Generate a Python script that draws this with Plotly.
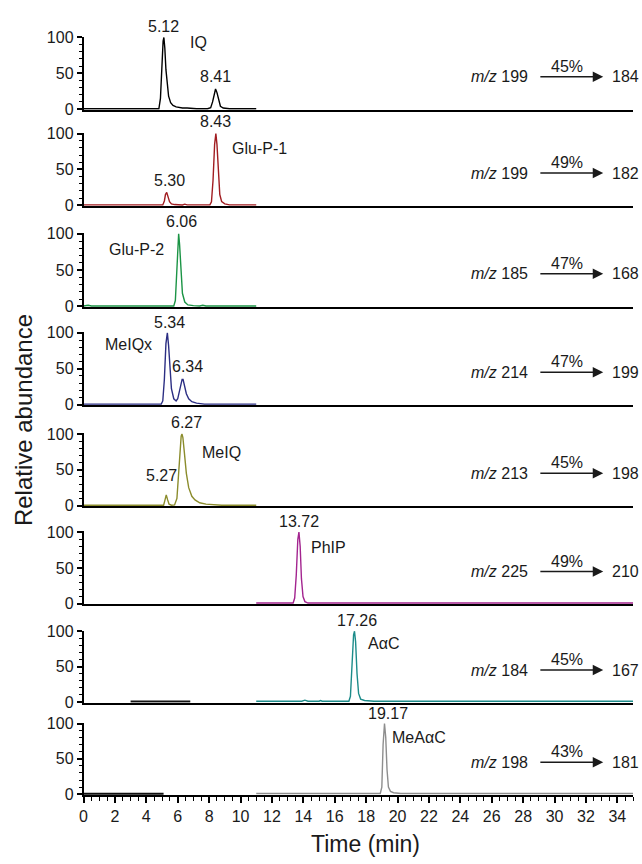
import plotly.graph_objects as go

# ---------------- data ----------------
compounds = ["IQ", "Glu-P-1", "Glu-P-2", "MeIQx", "MeIQ", "PhIP", "AαC", "MeAαC"]
colors = ["#000000", "#a11d21", "#1b9445", "#2b2e83", "#8b8c2c", "#a3248f", "#1d8c8a", "#8e8e8e"]
precursor = [199, 199, 185, 214, 213, 225, 184, 198]
product = [184, 182, 168, 199, 198, 210, 167, 181]
collision = ["45%", "49%", "47%", "47%", "45%", "49%", "45%", "43%"]

p1_time = [0, 4.8, 4.9, 5.0, 5.07, 5.12, 5.18, 5.25, 5.33, 5.42, 5.55, 5.7, 5.9, 6.1, 6.3, 6.6, 7.2, 7.9,
           8.1, 8.22, 8.32, 8.41, 8.5, 8.6, 8.72, 8.9, 9.3, 11]
p1_abund = [0.5, 0.5, 15, 65, 95, 100, 85, 55, 32, 18, 9, 5, 3, 2, 1.5, 1.5, 0.5, 0.5,
            2, 10, 22, 28, 23, 12, 4, 1.5, 0.5, 0.5]

p2_time = [0, 5.05, 5.15, 5.22, 5.3, 5.38, 5.48, 5.6, 5.8, 6.3, 6.45, 6.6, 8.05, 8.15, 8.25, 8.35,
           8.43, 8.5, 8.58, 8.68, 8.8, 9.0, 9.3, 11]
p2_abund = [0.5, 0.5, 6, 15, 18, 12, 5, 2, 1, 0.5, 1.5, 0.5, 0.5, 5, 35, 85,
            100, 85, 45, 15, 5, 2, 0.5, 0.5]

p3_time = [0, 0.3, 0.5, 2.2, 2.4, 2.6, 5.75, 5.85, 5.95, 6.02, 6.06, 6.12, 6.2, 6.3, 6.45, 6.65,
           7.0, 7.4, 7.6, 7.8, 11]
p3_abund = [0.5, 1.5, 0.5, 0.5, 1.2, 0.5, 0.5, 8, 55, 92, 100, 85, 45, 18, 6, 2,
            1, 0.5, 1.5, 0.5, 0.5]

p4_time = [0, 4.95, 5.05, 5.15, 5.25, 5.34, 5.42, 5.5, 5.6, 5.75, 5.9, 6.0, 6.1, 6.2, 6.28, 6.34,
           6.42, 6.55, 6.7, 6.9, 7.2, 7.5, 7.7, 11]
p4_abund = [0.5, 0.5, 5, 35, 85, 100, 82, 50, 22, 8, 5, 8, 18, 30, 35, 35,
            28, 15, 8, 4, 2, 1, 0.5, 0.5]

p5_time = [0, 5.1, 5.18, 5.27, 5.36, 5.45, 5.6, 5.8, 5.95, 6.05, 6.15, 6.22, 6.27, 6.33, 6.42,
           6.55, 6.7, 6.9, 7.1, 7.4, 7.8, 8.3, 8.8, 11]
p5_abund = [0.5, 0.5, 7, 15, 8, 2, 0.5, 1, 10, 40, 80, 97, 100, 95, 75,
            45, 25, 13, 8, 4, 2, 1, 0.5, 0.5]

p6_time = [11, 13.35, 13.45, 13.55, 13.65, 13.72, 13.8, 13.88, 13.98, 14.1, 14.3, 35]
p6_abund = [1, 1, 8, 40, 90, 100, 80, 35, 10, 3, 1, 1]

p7_time = [11, 11.6, 11.7, 11.8, 13.9, 14.1, 14.3, 15.0, 15.1, 15.2, 16.9, 17.0, 17.1, 17.2, 17.26,
           17.33, 17.42, 17.52, 17.65, 17.9, 18.5, 22.8, 23.0, 23.2, 35]
p7_abund = [1, 1, 2, 1, 1, 2.5, 1, 1, 2, 1, 1, 8, 50, 95, 100,
            85, 40, 12, 4, 2, 1, 1, 2, 1, 1]

p8_time = [11, 18.9, 19.0, 19.08, 19.17, 19.25, 19.33, 19.42, 19.55, 19.75, 20.2, 20.6, 20.8, 21.0, 35]
p8_abund = [1, 1, 10, 70, 100, 80, 35, 10, 4, 2, 1, 1, 2, 1, 1]

all_time = [p1_time, p2_time, p3_time, p4_time, p5_time, p6_time, p7_time, p8_time]
all_abund = [p1_abund, p2_abund, p3_abund, p4_abund, p5_abund, p6_abund, p7_abund, p8_abund]

# dark baseline segments (other channel) seen in lower panels
ghost_panel = [7, 8]
ghost_time = [[3.0, 6.8], [0.0, 5.1]]
ghost_abund = [[0.5, 0.5], [0.5, 0.5]]

# peak labels: (panel, label, x, y)
peak_labels = [
    (1, "5.12", 5.12, 100), (1, "8.41", 8.41, 31),
    (2, "8.43", 8.43, 100), (2, "5.30", 5.45, 20),
    (3, "6.06", 6.25, 100),
    (4, "5.34", 5.45, 100), (4, "6.34", 6.65, 38),
    (5, "6.27", 6.55, 100), (5, "5.27", 4.95, 25),
    (6, "13.72", 13.72, 100),
    (7, "17.26", 17.45, 100),
    (8, "19.17", 19.4, 99),
]
label_shift = [0, 0, 2, 0, 2, 0, 0, 1, 2, 0, 0, 0, 0]
# compound name positions: (x, y)
name_pos = [(6.65, 93), (9.3, 79), (1.5, 78), (1.25, 84), (7.4, 74), (14.35, 78), (18.0, 82), (19.5, 80)]

# ---------------- layout geometry ----------------
W, H = 642, 864
panel_px = [(30, 103), (128, 201), (230, 304), (331, 404), (434, 507), (534, 607), (635, 707), (729, 801)]
x_left, x_right = 80, 633

def py(p):
    return 1 - p / H

font_family = "Liberation Sans, Arial, Helvetica, sans-serif"
txt_color = "#1a1a1a"

fig = go.Figure()
layout = dict(
    width=W, height=H, margin=dict(l=0, r=0, t=0, b=0),
    paper_bgcolor="white", plot_bgcolor="white", showlegend=False,
    font=dict(family=font_family, size=16, color=txt_color),
)
annotations = []

for i in range(8):
    n = i + 1
    sfx = "" if n == 1 else str(n)
    top, bot = panel_px[i]
    k = (bot - top) / 100.0
    dom_top = top - 1 * k
    dom_bot = bot + 1 * k
    layout["xaxis" + sfx] = dict(
        domain=[x_left / W, x_right / W], range=[0, 35], anchor="y" + sfx,
        showline=True, linecolor="black", linewidth=2, showgrid=False, zeroline=False,
        layer="below traces",
        showticklabels=(n == 8), ticks="outside" if n == 8 else "",
        tick0=0, dtick=2, ticklen=6, tickwidth=1.5, tickcolor="black",
        tickfont=dict(size=16, color=txt_color),
        minor=dict(dtick=0.5, tick0=0, ticklen=4, tickwidth=1, tickcolor="black",
                   ticks="outside" if n == 8 else "", showgrid=False),
    )
    layout["yaxis" + sfx] = dict(
        domain=[py(dom_bot), py(dom_top)], range=[-1, 101], anchor="x" + sfx,
        showline=True, linecolor="black", linewidth=1.5, showgrid=False, zeroline=False,
        tickvals=[0, 50, 100], ticks="outside", ticklen=5, tickwidth=1.5, tickcolor="black",
        tickfont=dict(size=16, color=txt_color),
        minor=dict(dtick=10, tick0=0, ticklen=3, tickwidth=1, tickcolor="black",
                   ticks="outside", showgrid=False),
    )
    fig.add_trace(go.Scatter(x=all_time[i], y=all_abund[i], mode="lines",
                             line=dict(color=colors[i], width=1.4),
                             xaxis="x" + sfx, yaxis="y" + sfx, hoverinfo="skip"))
    # compound name
    annotations.append(dict(x=name_pos[i][0], y=name_pos[i][1], xref="x" + sfx, yref="y" + sfx,
                            text=compounds[i], showarrow=False, xanchor="left", yanchor="middle",
                            font=dict(size=16, color=txt_color)))
    # transition text
    yr = 45
    annotations.append(dict(x=28.45, y=yr, xref="x" + sfx, yref="y" + sfx,
                            text="<i>m/z</i> %d" % precursor[i], showarrow=False,
                            xanchor="right", yanchor="middle", font=dict(size=16, color=txt_color)))
    annotations.append(dict(x=33.1, y=yr, ax=29.0, ay=yr, xref="x" + sfx, yref="y" + sfx,
                            axref="x" + sfx, ayref="y" + sfx, text="", showarrow=True,
                            arrowhead=2, arrowsize=1.4, arrowwidth=1.5, arrowcolor=txt_color,
                            standoff=0, startstandoff=0))
    annotations.append(dict(x=30.8, y=yr, xref="x" + sfx, yref="y" + sfx, yshift=0,
                            text=collision[i], showarrow=False, xanchor="center", yanchor="bottom",
                            font=dict(size=16, color=txt_color)))
    annotations.append(dict(x=33.55, y=yr, xref="x" + sfx, yref="y" + sfx,
                            text=str(product[i]), showarrow=False, xanchor="left", yanchor="middle",
                            font=dict(size=16, color=txt_color)))

for j, pn in enumerate(ghost_panel):
    sfx = str(pn)
    fig.add_trace(go.Scatter(x=ghost_time[j], y=ghost_abund[j], mode="lines",
                             line=dict(color="#111111", width=2.2),
                             xaxis="x" + sfx, yaxis="y" + sfx, hoverinfo="skip"))

for idx, (pn, lab, xv, yv) in enumerate(peak_labels):
    sfx = "" if pn == 1 else str(pn)
    annotations.append(dict(x=xv, y=yv, xref="x" + sfx, yref="y" + sfx, text=lab,
                            yshift=label_shift[idx],
                            showarrow=False, xanchor="center", yanchor="bottom",
                            font=dict(size=16, color=txt_color)))

annotations.append(dict(x=(307 + 421) / 2 / W, y=py(852), xref="paper", yref="paper",
                        text="Time (min)", showarrow=False, xanchor="center", yanchor="middle",
                        font=dict(size=23, color=txt_color)))
annotations.append(dict(x=19 / W, y=py(420), xref="paper", yref="paper",
                        text="Relative abundance", textangle=-90, showarrow=False,
                        xanchor="center", yanchor="middle", font=dict(size=24, color=txt_color)))

layout["annotations"] = annotations
fig.update_layout(**layout)
fig.write_html("out.html")
